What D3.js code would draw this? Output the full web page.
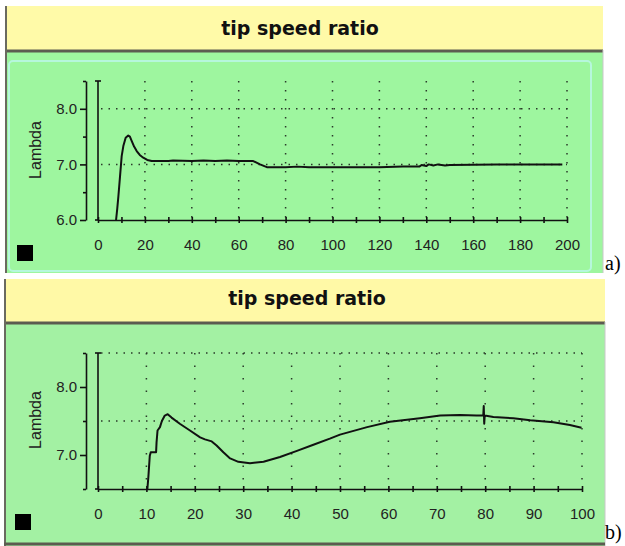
<!DOCTYPE html>
<html>
<head>
<meta charset="utf-8">
<script src="https://cdn.jsdelivr.net/npm/d3@7"></script>
<style>
  body { margin: 0; background: #fff; }
  svg { display: block; }
  .tick text { font-family: "Liberation Sans", Arial, sans-serif; font-size: 15px; fill: #222; }
</style>
</head>
<body>
<div id="chart"></div>
<script>
// panel a) : tip speed ratio over 0..200
const timeA = [7.7, 8.2, 8.7, 9.4, 10.1, 10.8, 11.8, 12.9, 13.6, 14.4, 15.4, 16.5, 17.8, 19.3, 21, 22.9,
  30, 32, 40, 45, 50, 55, 60, 66.2, 69.1, 72, 80, 85, 90, 100, 110, 120, 130, 137, 138,
  140, 141, 143, 145, 148, 150, 170, 198];
const lambdaA = [6.0, 6.2, 6.43, 6.79, 7.15, 7.33, 7.48, 7.52, 7.5, 7.42, 7.32, 7.24, 7.17, 7.12, 7.08, 7.06,
  7.06, 7.07, 7.06, 7.07, 7.06, 7.07, 7.06, 7.06, 7.0, 6.95, 6.95, 6.96, 6.95, 6.95, 6.95, 6.95, 6.96, 6.96, 6.99,
  6.97, 7.0, 6.98, 7.0, 6.98, 6.99, 7.0, 7.0];
const xTicksA = d3.range(0, 201, 10);
const xGridA = d3.range(20, 201, 20);
const yTicksA = [6.0, 6.5, 7.0, 7.5, 8.0, 8.5];
const yGridA = [7.0, 8.0];

// panel b) : tip speed ratio over 0..100
const timeB = [10.2, 10.4, 10.7, 10.9, 12.0, 12.1, 12.3, 12.8, 13.2, 13.8, 14.4, 15.2, 16.9, 19.0, 21.1, 22.1,
  23.5, 24.5, 25.9, 27.3, 29.0, 31.4, 34.2, 37.6, 41.1, 44.5, 47.9, 50, 55.6, 60.3, 66.5, 70.7, 74.8, 78.2,
  79.6, 79.7, 79.8, 79.9, 81.7, 85.8, 89.3, 94.1, 97.5, 99.9];
const lambdaB = [6.5, 6.67, 6.99, 7.04, 7.04, 7.19, 7.36, 7.41, 7.5, 7.58, 7.6, 7.55, 7.46, 7.36, 7.26, 7.23,
  7.2, 7.14, 7.04, 6.95, 6.9, 6.88, 6.9, 6.97, 7.06, 7.15, 7.24, 7.3, 7.41, 7.49, 7.54, 7.58, 7.59, 7.58,
  7.58, 7.72, 7.46, 7.58, 7.56, 7.54, 7.51, 7.48, 7.44, 7.4];
const xTicksB = d3.range(0, 101, 5);
const xGridB = d3.range(10, 101, 10);
const yTicksB = [6.5, 7.0, 7.5, 8.0, 8.5];
const yGridB = [7.5, 8.5];

const titleText = "tip speed ratio";
const yLabel = "Lambda";

var svg = d3.select("#chart").append("svg")
    .attr("width", 625)
    .attr("height", 546);

function drawPanel(p) {
    var g = svg.append("g");

    // frame
    g.append("rect").attr("x", p.left).attr("y", p.titleBottom)
        .attr("width", p.right - p.left).attr("height", p.bottom - p.titleBottom)
        .attr("fill", p.green);
    g.append("rect").attr("x", p.left).attr("y", p.top)
        .attr("width", p.right - p.left).attr("height", p.titleBottom - p.top)
        .attr("fill", p.yellow);
    if (p.inner) {
        g.append("rect").attr("x", p.left + 4).attr("y", p.titleBottom + 11)
            .attr("width", p.right - p.left - 16).attr("height", p.bottom - p.titleBottom - 13)
            .attr("rx", 4)
            .attr("fill", "none").attr("stroke", "#b6f7dc").attr("stroke-width", 2);
    }
    g.append("line").attr("x1", p.left).attr("x2", p.right)
        .attr("y1", p.titleBottom + 1).attr("y2", p.titleBottom + 1)
        .attr("stroke", "#5c5c50").attr("stroke-width", 3);
    g.append("line").attr("x1", p.left + 1).attr("x2", p.left + 1)
        .attr("y1", p.top).attr("y2", p.bottom)
        .attr("stroke", "#6a6a60").attr("stroke-width", 2);
    g.append("line").attr("x1", p.right).attr("x2", p.right)
        .attr("y1", p.titleBottom).attr("y2", p.bottom)
        .attr("stroke", "#c8c8c8").attr("stroke-width", 1);
    if (p.bottomLine) {
        g.append("line").attr("x1", p.left).attr("x2", p.right)
            .attr("y1", p.bottom - 2).attr("y2", p.bottom - 2)
            .attr("stroke", "#5c5c50").attr("stroke-width", 3);
    }

    g.append("text")
        .attr("x", p.titleX).attr("y", p.titleY)
        .attr("text-anchor", "middle")
        .style("font-family", "'DejaVu Sans', Verdana, sans-serif")
        .style("font-weight", "bold")
        .style("font-size", "19px")
        .attr("fill", "#111")
        .text(titleText);

    var x = d3.scaleLinear().domain(p.xDomain).range(p.xRange);
    var y = d3.scaleLinear().domain(p.yDomain).range(p.yRange);
    var y0 = y.range()[0], y1 = y.range()[1];

    // dotted grid
    g.selectAll(".vgrid").data(p.xGrid).enter().append("line")
        .attr("x1", d => x(d)).attr("x2", d => x(d))
        .attr("y1", y1).attr("y2", y0)
        .attr("stroke", "#2a3a2a").attr("stroke-width", 1.5)
        .attr("stroke-dasharray", p.vDash);
    g.selectAll(".hgrid").data(p.yGrid).enter().append("line")
        .attr("x1", x(p.xDomain[0]) + 3).attr("x2", x(p.xDomain[1]))
        .attr("y1", d => y(d)).attr("y2", d => y(d))
        .attr("stroke", "#2a3a2a").attr("stroke-width", 1.5)
        .attr("stroke-dasharray", "1.5,6");

    // x axis, ticks crossing the line
    g.append("g")
        .attr("transform", `translate(0,${y0})`)
        .call(d3.axisBottom(x).tickValues(p.xTicks).tickSizeInner(3).tickSizeOuter(0)
            .tickPadding(16).tickFormat(d => p.xLabels.includes(d) ? d : ""));
    g.append("g")
        .attr("transform", `translate(0,${y0})`)
        .call(d3.axisTop(x).tickValues(p.xTicks).tickSize(3).tickFormat(""))
        .select(".domain").remove();
    g.append("line").attr("x1", x(0) - 3).attr("x2", x(0)).attr("y1", y0).attr("y2", y0)
        .attr("stroke", "#111").attr("stroke-width", 1.6);

    // y axis, a little left of x = 0
    var yAxis = g.append("g")
        .attr("transform", `translate(${p.yAxisX},0)`)
        .call(d3.axisLeft(y).tickValues(p.yTicks).tickSizeOuter(0).tickPadding(3)
            .tickFormat(d => Number.isInteger(d) ? d.toFixed(1) : ""));
    yAxis.selectAll(".tick line").attr("x2", d => Number.isInteger(d) ? -6 : -3);

    g.selectAll(".domain").attr("stroke", "#111").attr("stroke-width", 1.6);
    g.selectAll(".tick line").attr("stroke", "#111").attr("stroke-width", 1.6);

    // x = 0 line with cap
    g.append("line").attr("x1", x(0)).attr("x2", x(0)).attr("y1", y1).attr("y2", y0)
        .attr("stroke", "#111").attr("stroke-width", 1.6);
    g.append("line").attr("x1", x(0) - 3).attr("x2", x(0) + 3).attr("y1", y1).attr("y2", y1)
        .attr("stroke", "#111").attr("stroke-width", 1.6);

    // the curve
    var pts = p.xs.map((v, i) => [v, p.ys[i]]);
    g.append("path")
        .datum(pts)
        .attr("fill", "none")
        .attr("stroke", "#111")
        .attr("stroke-width", 2)
        .attr("stroke-linejoin", "round")
        .attr("d", d3.line().x(d => x(d[0])).y(d => y(d[1])));

    g.append("text")
        .attr("transform", `translate(35,${p.labelY}) rotate(-90)`)
        .attr("text-anchor", "middle")
        .attr("dominant-baseline", "central")
        .style("font-family", "'Liberation Sans', Arial, sans-serif")
        .style("font-size", "16px")
        .attr("fill", "#222")
        .text(yLabel);

    g.append("rect").attr("x", p.squareX).attr("y", p.squareY)
        .attr("width", 16).attr("height", 16).attr("fill", "#000");

    svg.append("text")
        .attr("x", 605).attr("y", p.tagY)
        .style("font-family", "'Liberation Serif', 'Times New Roman', serif")
        .style("font-size", "20px")
        .attr("fill", "#000")
        .text(p.tag);
}

drawPanel({
    top: 6, bottom: 273, left: 5, right: 603, titleBottom: 50,
    titleX: 300, titleY: 35, green: "#9ef69f", yellow: "#fffaa8", inner: true,
    xDomain: [0, 200], xRange: [98, 567], yDomain: [6, 8.5], yRange: [220, 81],
    xTicks: xTicksA, xLabels: d3.range(0, 201, 20), xGrid: xGridA, yTicks: yTicksA, yGrid: yGridA,
    vDash: "1.5,7.5", yAxisX: 86, xs: timeA, ys: lambdaA,
    labelY: 150, squareX: 17, squareY: 245, tag: "a)", tagY: 270
});

drawPanel({
    top: 279, bottom: 546, left: 4, right: 605, titleBottom: 322,
    titleX: 307, titleY: 305, green: "#a3f1a3", yellow: "#fff9a6", inner: false, bottomLine: true,
    xDomain: [0, 100], xRange: [98, 582], yDomain: [6.5, 8.5], yRange: [489, 353],
    xTicks: xTicksB, xLabels: d3.range(0, 101, 10), xGrid: xGridB, yTicks: yTicksB, yGrid: yGridB,
    vDash: "1.5,11", yAxisX: 86, xs: timeB, ys: lambdaB,
    labelY: 420, squareX: 15, squareY: 514, tag: "b)", tagY: 539
});
</script>
</body>
</html>
